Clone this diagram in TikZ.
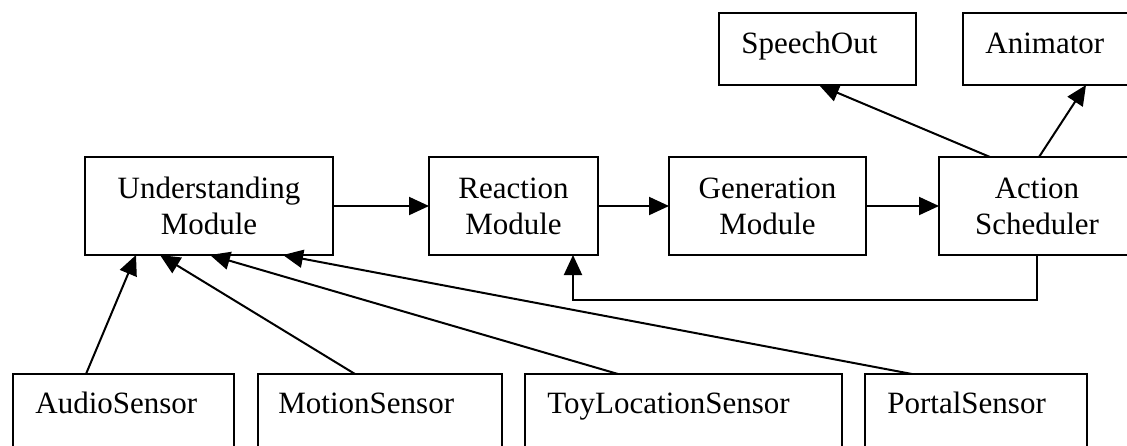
\documentclass[tikz,border=0pt]{standalone}
\usepackage{fontspec}
\setmainfont{Liberation Serif}
\usetikzlibrary{arrows.meta,calc}
\begin{document}
\begin{tikzpicture}[x=0.5pt,y=-0.5pt,
  box/.style={draw,line width=1pt,inner sep=0pt,outer sep=0pt},
  lbl/.style={inner sep=0pt,anchor=base west,font=\fontsize{15.5}{18}\selectfont},
  mod/.style={box,align=center,font=\fontsize{15.5}{18}\selectfont},
  arr/.style={line width=1pt,-{Triangle[length=10pt,width=9pt]}}]
\useasboundingbox (0,0) rectangle (1127,445);
\clip (0,0) rectangle (1127,445);
% middle row
\node[mod,minimum width=124pt,minimum height=49pt] (und) at (209,206) {Understanding\\Module};
\node[mod,minimum width=84.5pt,minimum height=49pt] (react) at (513.5,206) {Reaction\\Module};
\node[mod,minimum width=98.5pt,minimum height=49pt] (gen) at (767.5,206) {Generation\\Module};
\node[mod,minimum width=98pt,minimum height=49pt] (act) at (1037,206) {Action\\Scheduler};
% top row
\node[box,minimum width=98.5pt,minimum height=36pt] (speech) at (817.5,49) {};
\node[box,minimum width=98.5pt,minimum height=36pt] (anim) at (1061.5,49) {};
\node[lbl] (speecht) at (741,53) {SpeechOut};
\node[lbl] (animt) at (985,53) {Animator};
% sensors
\node[box,minimum width=110.5pt,minimum height=49pt] (audio) at (123.5,423) {};
\node[box,minimum width=122pt,minimum height=49pt] (motion) at (380,423) {};
\node[box,minimum width=158.5pt,minimum height=49pt] (toy) at (683.5,423) {};
\node[box,minimum width=111pt,minimum height=49pt] (portal) at (976,423) {};
\node[lbl] (audiot) at (35,413) {AudioSensor};
\node[lbl] (motiont) at (278,413) {MotionSensor};
\node[lbl] (toyt) at (547,413) {ToyLocationSensor};
\node[lbl] (portalt) at (887,413) {PortalSensor};
% connectors
\draw[arr] (und) -- (react);
\draw[arr] (react) -- (gen);
\draw[arr] (gen) -- (act);
\draw[arr] ($(act.north west)+(51,0)$) -- ($(speech.south west)+(100,0)$);
\draw[arr] ($(act.north west)+(100,0)$) -- ($(anim.south west)+(123,0)$);
\draw[arr] (act.south) -- ++(0,45) -| ($(react.south)+(59.5,0)$);
\draw[arr] ($(audio.north west)+(73,0)$) -- ($(und.south west)+(51,0)$);
\draw[arr] ($(motion.north west)+(97,0)$) -- ($(und.south west)+(75,0)$);
\draw[arr] ($(toy.north west)+(93,0)$) -- ($(und.south west)+(125,0)$);
\draw[arr] ($(portal.north west)+(47,0)$) -- ($(und.south west)+(198,0)$);
\end{tikzpicture}
\end{document}
